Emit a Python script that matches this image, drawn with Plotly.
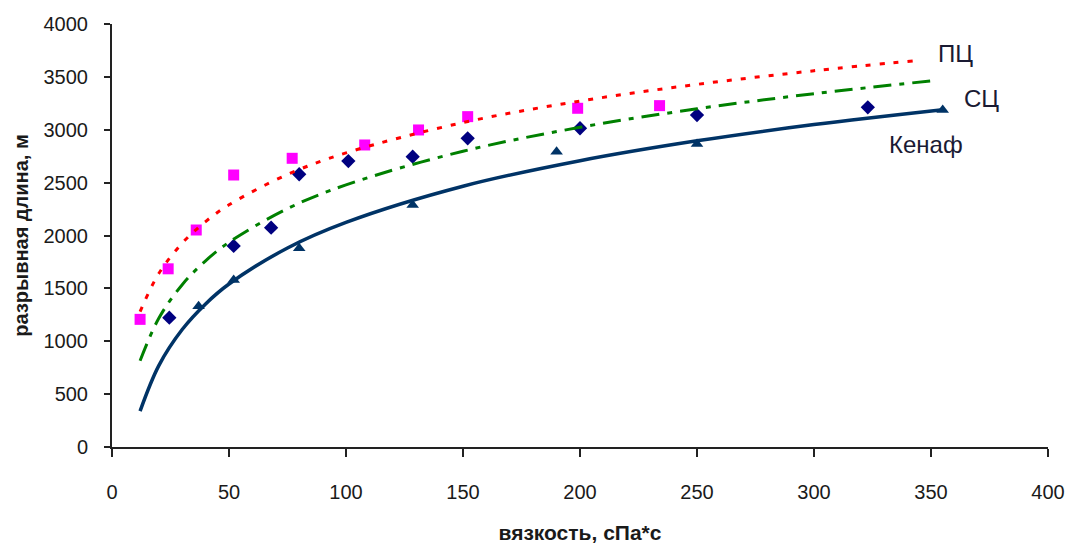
import plotly.graph_objects as go

# Measured data points
pc_x = [12, 24, 36, 52, 77, 108, 131, 152, 199, 234]
pc_y = [1207, 1685, 2052, 2572, 2730, 2856, 2998, 3124, 3203, 3228]

sc_x = [24.5, 52, 68, 80, 101, 128.5, 152, 200, 250, 323]
sc_y = [1223, 1901, 2074, 2579, 2704, 2745, 2919, 3014, 3139, 3212]

kenaf_x = [37, 52, 80, 128.5, 190, 250, 355]
kenaf_y = [1330, 1579, 1879, 2288, 2793, 2865, 3187]

# Trend lines
pc_trend_x = [12, 20, 30, 40, 50, 75, 100, 150, 200, 250, 300, 343]
pc_trend_y = [1280, 1641, 1928, 2132, 2290, 2577, 2781, 3068, 3271, 3429, 3558, 3653]

sc_trend_x = [12, 20, 30, 40, 50, 75, 100, 150, 200, 250, 300, 351]
sc_trend_y = [816, 1217, 1535, 1761, 1936, 2254, 2479, 2797, 3023, 3198, 3341, 3464]

kenaf_trend_x = [12, 20, 30, 40, 50, 75, 100, 150, 200, 250, 300, 355]
kenaf_trend_y = [340, 770, 1111, 1353, 1541, 1882, 2124, 2466, 2707, 2895, 3049, 3190]

labels = ["ПЦ", "СЦ", "Кенаф"]

FONT = "Liberation Sans, Arial, sans-serif"

fig = go.Figure()

fig.add_trace(go.Scatter(x=pc_x, y=pc_y, mode="markers",
                         marker=dict(symbol="square", size=11, color="#FF00FF"),
                         showlegend=False))
fig.add_trace(go.Scatter(x=sc_x, y=sc_y, mode="markers",
                         marker=dict(symbol="diamond", size=11, color="#000080"),
                         showlegend=False))
fig.add_trace(go.Scatter(x=kenaf_x, y=kenaf_y, mode="markers",
                         marker=dict(symbol="triangle-up", size=11, color="#003366"),
                         showlegend=False))

fig.add_trace(go.Scatter(x=pc_trend_x, y=pc_trend_y, mode="lines",
                         line=dict(color="#FF0000", width=3, dash="5px,9px", shape="spline"),
                         showlegend=False))
fig.add_trace(go.Scatter(x=sc_trend_x, y=sc_trend_y, mode="lines",
                         line=dict(color="#008000", width=3, dash="18px,8px,5px,8px", shape="spline"),
                         showlegend=False))
fig.add_trace(go.Scatter(x=kenaf_trend_x, y=kenaf_trend_y, mode="lines",
                         line=dict(color="#003366", width=3.5, shape="spline"),
                         showlegend=False))

label_pos = [(360.5, 3725), (371.5, 3300), (348, 2865)]
for txt, (lx, ly) in zip(labels, label_pos):
    fig.add_annotation(x=lx, y=ly, xref="x", yref="y", text=txt, showarrow=False,
                       font=dict(family=FONT, size=24, color="#1a1a33"))

fig.update_layout(
    width=1065, height=544,
    margin=dict(l=112, r=17, t=24, b=97),
    paper_bgcolor="white", plot_bgcolor="white",
    font=dict(family=FONT, color="#1a1a1a"),
)

fig.update_xaxes(
    range=[0, 400], tickvals=list(range(0, 401, 50)),
    showgrid=False, zeroline=False, automargin=False,
    showline=True, linecolor="#222", linewidth=2,
    ticks="outside", ticklen=8, tickwidth=2, tickcolor="#222",
    tickfont=dict(family=FONT, size=20, color="#1a1a1a"),
    ticklabelstandoff=18,
    title=dict(text="<b>вязкость, сПа*с</b>", font=dict(family=FONT, size=21, color="#1a1a1a"),
               standoff=24),
)
fig.update_yaxes(
    range=[0, 4000], tickvals=list(range(0, 4001, 500)),
    showgrid=False, zeroline=False, automargin=False,
    showline=True, linecolor="#222", linewidth=2,
    ticks="outside", ticklen=6, tickwidth=2, tickcolor="#222",
    tickfont=dict(family=FONT, size=20, color="#1a1a1a"),
    ticklabelstandoff=12,
    title=dict(text="<b>разрывная длина, м</b>", font=dict(family=FONT, size=20, color="#1a1a1a"),
               standoff=10),
)

fig.write_html("out.html")
